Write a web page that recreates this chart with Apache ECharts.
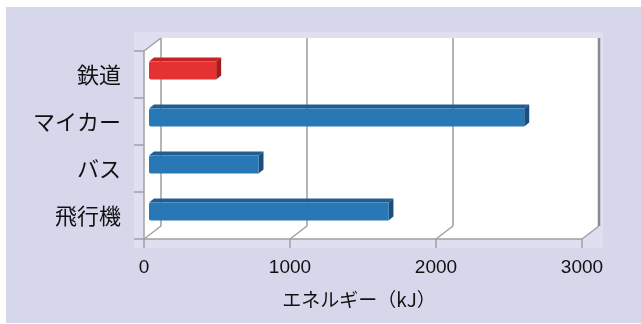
<!DOCTYPE html>
<html>
<head>
<meta charset="utf-8">
<script src="https://cdn.jsdelivr.net/npm/echarts@6/dist/echarts.min.js"></script>
<style>
  html, body { margin: 0; padding: 0; background: #ffffff; }
  #wrap { position: relative; width: 641px; height: 324px; overflow: hidden; }
  .bg { position: absolute; left: 6px; top: 7px; width: 635px; height: 316px; background: #d7d7ec; }
  .plotbg { position: absolute; left: 134px; top: 32px; width: 469px; height: 216px; background: #dfdff1; }
  #chart { position: absolute; left: 0; top: 0; width: 641px; height: 324px; }
</style>
</head>
<body>
<div id="wrap">
  <div class="bg"></div>
  <div class="plotbg"></div>
  <div id="chart"></div>
</div>
<script>
// データ
const categories = ['飛行機', 'バス', 'マイカー', '鉄道']
const energy = [1640, 750, 2570, 460]
const barColors = ['blue', 'blue', 'blue', 'red']
const xTicks = [0, 1000, 2000, 3000]

// 3D風の奥行き (px)
const DEPTH_X = 17
const DEPTH_Y = -13
const BAR_OFF_X = 5
const BAR_OFF_Y = -4
const BAR_D_X = 5
const BAR_D_Y = -4
const BAR_H = 18

const palette = {
  red: { front: '#e43131', top: '#c32222', side: '#a81b1b' },
  blue: { front: '#2878b6', top: '#1e5e93', side: '#184f7e' },
}

const chart = echarts.init(document.getElementById('chart'), null, { renderer: 'canvas' })

// 奥の壁と床（白）
function renderWall(params, api) {
  const cs = params.coordSys
  const l = cs.x, t = cs.y, r = cs.x + cs.width, b = cs.y + cs.height
  return {
    type: 'group',
    children: [
      {
        type: 'polygon',
        shape: { points: [[l, t], [l + DEPTH_X, t + DEPTH_Y], [r + DEPTH_X, t + DEPTH_Y], [r + DEPTH_X, b + DEPTH_Y], [r, b], [l, b]] },
        style: { fill: '#ffffff' },
      },
      {
        type: 'line',
        shape: { x1: l, y1: t, x2: l + DEPTH_X, y2: t + DEPTH_Y },
        style: { stroke: '#a0a0a0', lineWidth: 1.5 },
      },
    ],
  }
}

// 奥の目盛線と床の斜線
function renderGridLine(params, api) {
  const cs = params.coordSys
  const p = api.coord([api.value(0), 0])
  const x = p[0]
  const t = cs.y, b = cs.y + cs.height
  const isEdge = api.value(0) === xTicks[xTicks.length - 1]
  return {
    type: 'group',
    children: [
      {
        type: 'line',
        shape: { x1: x + DEPTH_X, y1: t + DEPTH_Y, x2: x + DEPTH_X, y2: b + DEPTH_Y },
        style: { stroke: isEdge ? '#8a8a8a' : '#9c9c9c', lineWidth: isEdge ? 2.5 : 1.5 },
      },
      {
        type: 'line',
        shape: { x1: x, y1: b, x2: x + DEPTH_X, y2: b + DEPTH_Y },
        style: { stroke: '#a0a0a0', lineWidth: 1.5 },
      },
    ],
  }
}

// 立体の棒
function renderBar(params, api) {
  const val = api.value(0)
  const cat = api.value(1)
  const start = api.coord([0, cat])
  const end = api.coord([val, cat])
  const c = palette[barColors[params.dataIndex]]
  const x0 = start[0] + BAR_OFF_X
  const x1 = end[0] + BAR_OFF_X
  const yTop = start[1] + BAR_OFF_Y - BAR_H / 2
  const yBot = yTop + BAR_H
  return {
    type: 'group',
    children: [
      {
        type: 'polygon',
        shape: { points: [[x0, yTop], [x0 + BAR_D_X, yTop + BAR_D_Y], [x1 + BAR_D_X, yTop + BAR_D_Y], [x1, yTop]] },
        style: { fill: c.top },
      },
      {
        type: 'polygon',
        shape: { points: [[x1, yTop], [x1 + BAR_D_X, yTop + BAR_D_Y], [x1 + BAR_D_X, yBot + BAR_D_Y], [x1, yBot]] },
        style: { fill: c.side },
      },
      {
        type: 'rect',
        shape: { x: x0, y: yTop, width: x1 - x0, height: BAR_H, r: [2, 0, 0, 2] },
        style: { fill: c.front },
      },
    ],
  }
}

const option = {
  backgroundColor: 'transparent',
  animation: false,
  grid: { left: 144, right: 59, top: 51, bottom: 85, containLabel: false },
  xAxis: {
    type: 'value',
    min: 0,
    max: 3000,
    interval: 1000,
    z: 5,
    axisLine: { show: true, lineStyle: { color: '#a0a0a0', width: 1.5 } },
    axisTick: { show: true, length: 9, lineStyle: { color: '#a0a0a0', width: 1.5 } },
    splitLine: { show: false },
    axisLabel: { fontSize: 19, fontFamily: 'Liberation Sans', color: '#111', margin: 19, formatter: v => String(v) },
    name: 'エネルギー（kJ）',
    nameLocation: 'middle',
    nameGap: 51,
    nameTextStyle: { fontSize: 19, fontFamily: 'Noto Sans CJK JP', color: '#111', padding: [0, 8, 0, 0] },
  },
  yAxis: {
    type: 'category',
    data: categories,
    z: 5,
    axisLine: { show: true, lineStyle: { color: '#a0a0a0', width: 1.5 } },
    axisTick: { show: true, length: 10, interval: 0, lineStyle: { color: '#a0a0a0', width: 1.5 } },
    splitLine: { show: false },
    axisLabel: { fontSize: 22, fontFamily: 'Noto Sans CJK JP', color: '#111', margin: 23 },
  },
  series: [
    {
      name: 'wall',
      type: 'custom',
      z: 1,
      silent: true,
      renderItem: renderWall,
      data: [[0, 0]],
    },
    {
      name: 'grid',
      type: 'custom',
      z: 1,
      silent: true,
      renderItem: renderGridLine,
      data: xTicks.map(v => [v, 0]),
    },
    {
      name: 'energy',
      type: 'custom',
      z: 3,
      renderItem: renderBar,
      encode: { x: 0, y: 1 },
      data: energy.map((v, i) => [v, i]),
    },
  ],
}

chart.setOption(option)
</script>
</body>
</html>
